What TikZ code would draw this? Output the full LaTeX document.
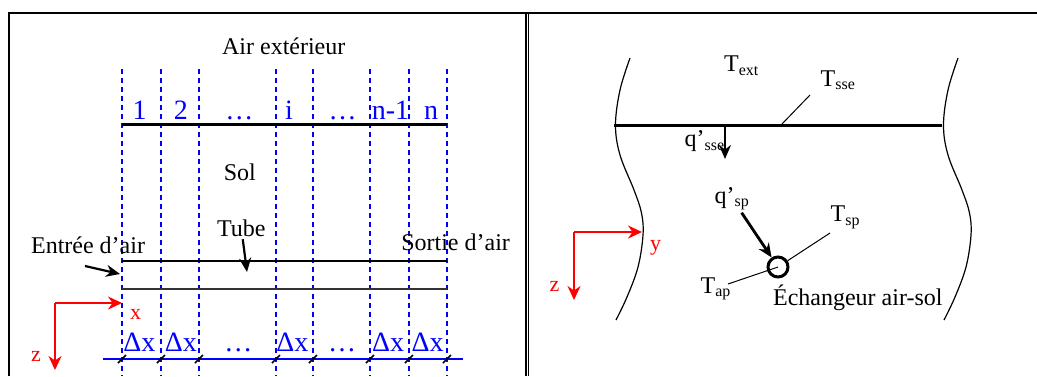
\documentclass[tikz,border=0pt]{standalone}
\usepackage{fontspec}
\setmainfont{Liberation Serif}
\usetikzlibrary{arrows.meta}
\begin{document}
\begin{tikzpicture}[x=0.5pt, y=-0.5pt, >={Stealth[length=7pt,width=6pt]},
	txt/.style={inner sep=1pt, font=\fontsize{12}{14}\selectfont},
	bluetxt/.style={inner sep=1pt, text=blue, font=\fontsize{14}{16}\selectfont},
	redtxt/.style={inner sep=1pt, text=red, font=\fontsize{11}{13}\selectfont},
	cellline/.style={blue, line width=0.55pt, dash pattern=on 2.5pt off 2pt},
	axis/.style={red, line width=1pt, ->, >={Stealth[length=7pt,width=6.5pt]}},
	leader/.style={line width=0.5pt},
	heat/.style={->, line width=1.1pt}]
	\useasboundingbox (0,0) rectangle (1037,376);
	% Cadre
	\draw[line width=1pt] (9,376) -- (9,13) -- (1037,13);
	\draw[line width=0.7pt] (526,13) -- (526,376) (528.5,13) -- (528.5,376);
	
	% Vue longitudinale
	\foreach \x in {122,161,199,276,313,370,409,447}
		\draw[cellline] (\x,69) -- (\x,376);
	\node[txt, anchor=base west] (airext) at (219.7,54) {Air extérieur};
	\foreach \x/\t [count=\k] in {139.6/1, 180.9/2, 239.4/…, 289/i, 342.5/…, 390.5/n-1, 431/n}
		\node[bluetxt, anchor=base] (cell\k) at (\x,119) {\t};
	\coordinate (surfA) at (122,124);
	\coordinate (surfB) at (447,124);
	\draw[line width=1.5pt] (surfA) -- (surfB);
	\node[txt, anchor=base west] (sol) at (221.4,180.2) {Sol};
	\node[txt, anchor=base west] (tube) at (214.7,236.6) {Tube};
	\node[txt, anchor=base west] (entree) at (28.7,253.5) {Entrée d’air};
	\node[txt, anchor=base west] (sortie) at (398.9,250.2) {Sortie d’air};
	% Tube
	\coordinate (tubeinA) at (122,261);
	\coordinate (tubeoutA) at (447,261);
	\coordinate (tubeinB) at (122,289);
	\coordinate (tubeoutB) at (447,289);
	\draw[line width=0.9pt] (tubeinA) -- (tubeoutA);
	\draw[line width=0.9pt, black!80] (tubeinB) -- (tubeoutB);
	\coordinate (tubetip) at (247,272);
	\draw[heat] (tube) -- (tubetip);
	\coordinate (inlettail) at (85,266);
	\coordinate (inlet) at (120,274);
	\draw[heat] (inlettail) -- (inlet);
	% Axes
	\coordinate (oA) at (55,303);
	\coordinate (xend) at (122,303);
	\coordinate (zendA) at (55,370);
	\draw[axis] (oA) -- (xend);
	\draw[axis] (oA) -- (zendA);
	\node[redtxt, anchor=base west] (xlbl) at (127.8,319.5) {x};
	\node[redtxt, anchor=base west] (zlblA) at (28.7,361) {z};
	% Pas dx
	\coordinate (dxA) at (103,359);
	\coordinate (dxB) at (463,359);
	\draw[blue, line width=0.6pt] (dxA) -- (dxB);
	\foreach \x in {122,161,199,276,313,370,409,447}
		\draw[line width=0.8pt] (\x-4,363) -- (\x+4,355);
	\foreach \x/\t [count=\k] in {139.3/Δx, 180.9/Δx, 238.3/…, 292.4/Δx, 342/…, 388/Δx, 427.7/Δx}
		\node[bluetxt, anchor=base] (dx\k) at (\x,351) {\t};
	
	% Coupe transversale
	\foreach \dx in {0,328}
		\draw[line width=0.6pt] plot[smooth, tension=0.6] coordinates {(630+\dx,58) (620+\dx,90) (615.5+\dx,125) (620+\dx,155) (634+\dx,190) (641.5+\dx,213) (643+\dx,235) (638+\dx,267) (627+\dx,297) (616+\dx,320)};
	\coordinate (surfC) at (614,125);
	\coordinate (surfD) at (942,125);
	\draw[line width=1.5pt] (surfC) -- (surfD);
	\node[txt, anchor=base west] (text) at (721.7,71.7) {T\textsubscript{ext}};
	\node[txt, anchor=base west] (tsse) at (818.3,86) {T\textsubscript{sse}};
	\coordinate (ssefoot) at (810,95);
	\coordinate (ssepoint) at (781,125);
	\draw[leader] (ssefoot) -- (ssepoint);
	\node[txt, anchor=base west] (qsse) at (682.3,146.7) {q’\textsubscript{sse}};
	\coordinate (qssetop) at (725,125);
	\coordinate (qssetip) at (725,159);
	\draw[heat] (qssetop) -- (qssetip);
	% Echangeur
	\node[circle, draw, line width=1.5pt, minimum size=10pt, inner sep=0pt] (exch) at (778,267) {};
	\node[txt, anchor=base west] (qsp) at (712.3,203.3) {q’\textsubscript{sp}};
	\draw[heat, line width=1.4pt] (qsp) -- (exch);
	\node[txt, anchor=base west] (tsp) at (828.3,221.7) {T\textsubscript{sp}};
	\coordinate (tspfoot) at (830,233);
	\draw[leader] (tspfoot) -- (exch);
	\node[txt, anchor=base west] (tap) at (698.3,293.3) {T\textsubscript{ap}};
	\coordinate (tapfoot) at (728,284);
	\draw[leader] (tapfoot) -- (exch.center);
	\node[txt, anchor=base west] (exlbl) at (770.7,305) {Échangeur air-sol};
	% Axes
	\coordinate (oB) at (574,232);
	\coordinate (yend) at (642,232);
	\coordinate (zendB) at (574,300);
	\draw[axis] (oB) -- (yend);
	\draw[axis] (oB) -- (zendB);
	\node[redtxt, anchor=base west] (ylbl) at (647.7,250) {y};
	\node[redtxt, anchor=base west] (zlblB) at (547.3,291.7) {z};
\end{tikzpicture}
\end{document}
